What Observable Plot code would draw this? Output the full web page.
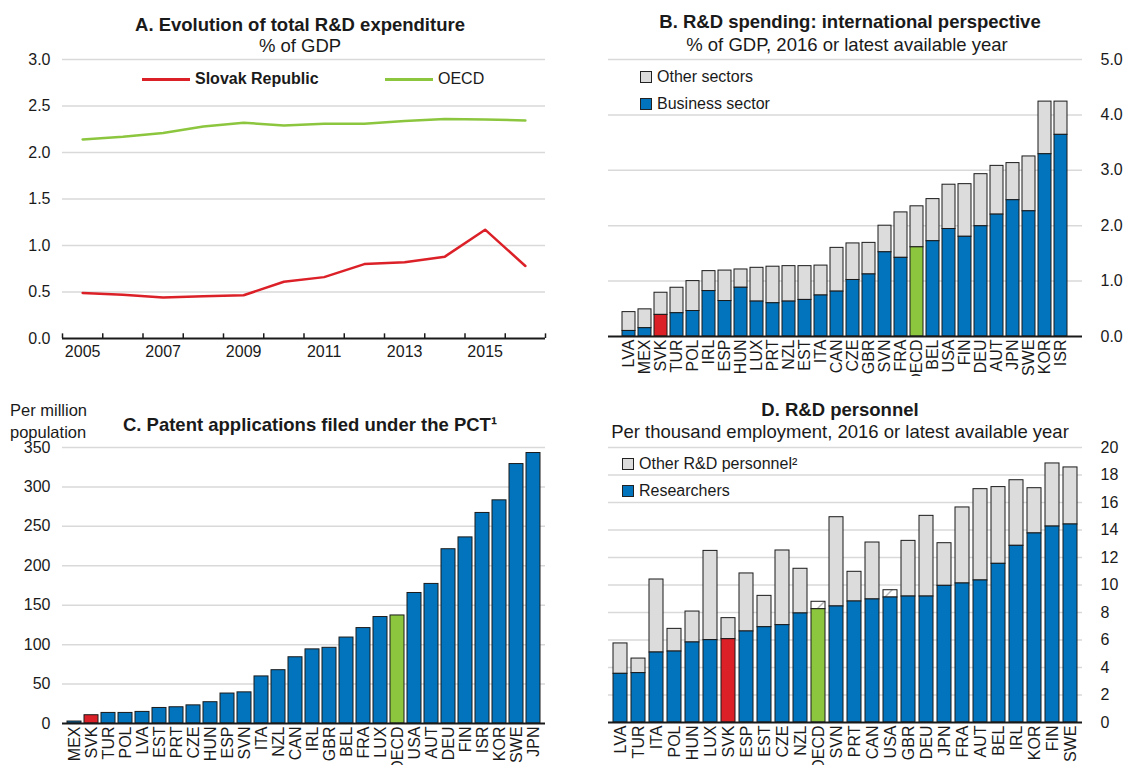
<!DOCTYPE html>
<html>
<head>
<meta charset="utf-8">
<script src="https://cdn.jsdelivr.net/npm/d3@7"></script>
<script src="https://cdn.jsdelivr.net/npm/@observablehq/plot@0.6"></script>
<style>
  html, body { margin: 0; padding: 0; background: #fff; }
  #root { position: relative; width: 1126px; height: 765px; overflow: hidden; font-family: "Liberation Sans", Arial, sans-serif; color: #1a1a1a; }
  .abs { position: absolute; }
  .title { font-weight: bold; font-size: 18.5px; line-height: 22px; text-align: center; white-space: nowrap; }
  .sub { font-size: 18.5px; line-height: 22px; text-align: center; white-space: nowrap; }
  .leg { font-size: 16px; white-space: nowrap; display: flex; align-items: center; }
  .sq { display: inline-block; width: 10px; height: 10px; border: 1px solid #222; margin-right: 5px; }
  .ln { display: inline-block; width: 48px; height: 3px; margin-right: 5px; }
</style>
</head>
<body>
<div id="root"></div>
<script>
// ---------- Panel A data ----------
const yearsA = [2005, 2006, 2007, 2008, 2009, 2010, 2011, 2012, 2013, 2014, 2015, 2016];
const svkA   = [0.49, 0.47, 0.44, 0.455, 0.465, 0.61, 0.66, 0.80, 0.82, 0.88, 1.17, 0.78];
const oecdA  = [2.14, 2.17, 2.21, 2.28, 2.32, 2.29, 2.31, 2.31, 2.34, 2.36, 2.355, 2.345];
const tickLabelsA = [2005, 2007, 2009, 2011, 2013, 2015];

// ---------- Panel B data ----------
const countriesB = ["LVA","MEX","SVK","TUR","POL","IRL","ESP","HUN","LUX","PRT","NZL","EST","ITA","CAN","CZE","GBR","SVN","FRA","OECD","BEL","USA","FIN","DEU","AUT","JPN","SWE","KOR","ISR"];
const totalB    = [0.44,0.49,0.79,0.88,1.00,1.18,1.19,1.21,1.24,1.26,1.27,1.27,1.28,1.60,1.68,1.69,2.00,2.24,2.35,2.48,2.74,2.75,2.93,3.08,3.13,3.25,4.24,4.24];
const businessB = [0.10,0.15,0.39,0.42,0.46,0.82,0.64,0.88,0.63,0.60,0.63,0.66,0.74,0.81,1.02,1.12,1.52,1.42,1.61,1.72,1.94,1.80,1.99,2.20,2.46,2.26,3.29,3.64];

// ---------- Panel C data ----------
const countriesC = ["MEX","SVK","TUR","POL","LVA","EST","PRT","CZE","HUN","ESP","SVN","ITA","NZL","CAN","IRL","GBR","BEL","FRA","LUX","OECD","USA","AUT","DEU","FIN","ISR","KOR","SWE","JPN"];
const patentsC   = [2.5,10.5,13.4,13.4,14.7,19.7,20.6,23,27,38,39.5,59.7,67.6,84,94,96,109,121,135,137,165.5,177,221,236,267,283,329,343];

// ---------- Panel D data ----------
const countriesD = ["LVA","TUR","ITA","POL","HUN","LUX","SVK","ESP","EST","CZE","NZL","OECD","SVN","PRT","CAN","USA","GBR","DEU","JPN","FRA","AUT","BEL","IRL","KOR","FIN","SWE"];
const totalD       = [5.75,4.65,10.4,6.81,8.07,12.48,7.59,10.84,9.21,12.51,11.18,8.78,14.93,10.96,13.09,9.62,13.21,15.03,13.04,15.64,16.97,17.12,17.62,17.04,18.84,18.55];
const researchersD = [3.54,3.59,5.09,5.16,5.82,5.99,6.06,6.62,6.93,7.08,7.93,8.24,8.44,8.80,8.95,9.09,9.16,9.16,9.94,10.11,10.33,11.54,12.85,13.75,14.25,14.40];
const hatchedD = ["OECD", "USA"];

// ---------- Colours ----------
const BLUE = "#0274be", GREY = "#dcdcdc", RED = "#dc2028", GREEN = "#8cc63f", INK = "#1a1a1a", GRID = "#d9d9d9";
const mainColor = c => c === "SVK" ? RED : c === "OECD" ? GREEN : BLUE;

const root = document.getElementById("root");
function place(el, left, top) { el.classList.add("abs"); el.style.left = left + "px"; el.style.top = top + "px"; root.appendChild(el); return el; }
function html(s, left, top, cls, extra) { const d = document.createElement("div"); d.className = cls || ""; d.innerHTML = s; if (extra) Object.assign(d.style, extra); return place(d, left, top); }
const baseStyle = { fontFamily: "Liberation Sans, Arial, sans-serif", fontSize: "16px", color: INK, background: "transparent", overflow: "hidden" };

// ---------- Panel A ----------
const boundariesA = d3.range(2004.5, 2017, 1);
const plotA = Plot.plot({
  width: 560, height: 330, marginLeft: 62, marginRight: 15, marginTop: 9, marginBottom: 42,
  style: baseStyle,
  x: {domain: [2004.5, 2016.5]},
  y: {domain: [0, 3]},
  marks: [
    Plot.ruleY([0.5, 1, 1.5, 2, 2.5, 3], {stroke: GRID, strokeWidth: 1.5}),
    Plot.axisY({ticks: [0, 0.5, 1, 1.5, 2, 2.5, 3], tickFormat: d => d.toFixed(1), tickSize: 0, tickPadding: 12, label: null}),
    Plot.axisX({ticks: tickLabelsA, tickFormat: d => String(d), tickSize: 0, tickPadding: 7, label: null}),
    Plot.ruleX(boundariesA, {x: d => d, y1: 0, y2: 0.05, stroke: INK, strokeWidth: 1.5}),
    Plot.ruleY([0], {stroke: INK, strokeWidth: 2}),
    Plot.line(yearsA, {x: d => d, y: (d, i) => oecdA[i], stroke: GREEN, strokeWidth: 2.5}),
    Plot.line(yearsA, {x: d => d, y: (d, i) => svkA[i], stroke: RED, strokeWidth: 2.5})
  ]
});
place(plotA, 0, 50);
html("A. Evolution of total R&amp;D expenditure", 0, 14, "title", {width: "600px"});
html("% of GDP", 0, 35, "sub", {width: "600px"});
html(`<span class="ln" style="background:${RED}"></span><b>Slovak Republic</b>`, 142, 70, "leg");
html(`<span class="ln" style="background:${GREEN}"></span>OECD`, 385, 70, "leg");

// ---------- Panel B ----------
const dataB = countriesB.map((c, i) => ({c, total: totalB[i], bus: businessB[i]}));
const plotB = Plot.plot({
  width: 566, height: 326, marginLeft: 48, marginRight: 44, marginTop: 9, marginBottom: 40,
  style: baseStyle,
  x: {domain: countriesB, padding: 0.17},
  y: {domain: [0, 5]},
  color: {type: "identity"},
  marks: [
    Plot.ruleY([1, 2, 3, 4, 5], {stroke: GRID, strokeWidth: 1.5}),
    Plot.barY(dataB, {x: "c", y1: "bus", y2: "total", fill: GREY, stroke: INK, strokeWidth: 1}),
    Plot.barY(dataB, {x: "c", y1: 0, y2: "bus", fill: d => mainColor(d.c), stroke: INK, strokeWidth: 1}),
    Plot.ruleY([0], {stroke: INK, strokeWidth: 2}),
    Plot.axisY({anchor: "right", ticks: [0, 1, 2, 3, 4, 5], tickFormat: d => d.toFixed(1), tickSize: 0, tickPadding: 18, label: null}),
    Plot.axisX({tickRotate: -90, tickSize: 0, tickPadding: 3, label: null})
  ]
});
place(plotB, 560, 50);
html("B. R&amp;D spending: international perspective", 567, 11, "title", {width: "566px"});
html("% of GDP, 2016 or latest available year", 564, 34, "sub", {width: "566px"});
html(`<span class="sq" style="background:${GREY}"></span>Other sectors`, 640, 68, "leg");
html(`<span class="sq" style="background:${BLUE}"></span>Business sector`, 640, 95, "leg");

// ---------- Panel C ----------
const dataC = countriesC.map((c, i) => ({c, v: patentsC[i]}));
const plotC = Plot.plot({
  width: 560, height: 375, marginLeft: 62, marginRight: 15, marginTop: 57, marginBottom: 42,
  style: baseStyle,
  x: {domain: countriesC, padding: 0.18},
  y: {domain: [0, 350]},
  color: {type: "identity"},
  marks: [
    Plot.ruleY([50, 100, 150, 200, 250, 300, 350], {stroke: GRID, strokeWidth: 1.5}),
    Plot.barY(dataC, {x: "c", y: "v", fill: d => mainColor(d.c), stroke: INK, strokeWidth: 1}),
    Plot.ruleY([0], {stroke: INK, strokeWidth: 2}),
    Plot.axisY({ticks: [0, 50, 100, 150, 200, 250, 300, 350], tickSize: 0, tickPadding: 12, label: null}),
    Plot.axisX({tickRotate: -90, tickSize: 0, tickPadding: 3, label: null})
  ]
});
place(plotC, 0, 390);
html("Per million<br>population", 10, 399, "", {fontSize: "16.5px", lineHeight: "22px"});
html("C. Patent applications filed under the PCT¹", 90, 414, "title", {width: "440px"});

// ---------- Panel D ----------
const dataD = countriesD.map((c, i) => ({c, total: totalD[i], res: researchersD[i]}));
const plotD = Plot.plot({
  width: 566, height: 375, marginLeft: 48, marginRight: 44, marginTop: 57, marginBottom: 43,
  style: baseStyle,
  x: {domain: countriesD, padding: 0.2},
  y: {domain: [0, 20]},
  color: {type: "identity"},
  marks: [
    Plot.ruleY(d3.range(2, 21, 2), {stroke: GRID, strokeWidth: 1.5}),
    Plot.barY(dataD, {x: "c", y1: "res", y2: "total", fill: d => hatchedD.includes(d.c) ? "url(#hatchD)" : GREY, stroke: INK, strokeWidth: 1}),
    Plot.barY(dataD, {x: "c", y1: 0, y2: "res", fill: d => mainColor(d.c), stroke: INK, strokeWidth: 1}),
    Plot.ruleY([0], {stroke: INK, strokeWidth: 2}),
    Plot.axisY({anchor: "right", ticks: d3.range(0, 21, 2), tickSize: 0, tickPadding: 18, label: null}),
    Plot.axisX({tickRotate: -90, tickSize: 0, tickPadding: 3, label: null})
  ]
});
d3.select(plotD).insert("defs", ":first-child").html(
  '<pattern id="hatchD" patternUnits="userSpaceOnUse" width="14" height="14">' +
  '<rect width="14" height="14" fill="#ffffff"/>' +
  '<line x1="0" y1="14" x2="14" y2="0" stroke="#b5b5b5" stroke-width="1.5"/></pattern>');
place(plotD, 560, 390);
html("D. R&amp;D personnel", 557, 399, "title", {width: "566px"});
html("Per thousand employment, 2016 or latest available year", 557, 421, "sub", {width: "566px"});
html(`<span class="sq" style="background:${GREY}"></span>Other R&amp;D personnel²`, 622, 455, "leg");
html(`<span class="sq" style="background:${BLUE}"></span>Researchers`, 622, 482, "leg");
</script>
</body>
</html>
